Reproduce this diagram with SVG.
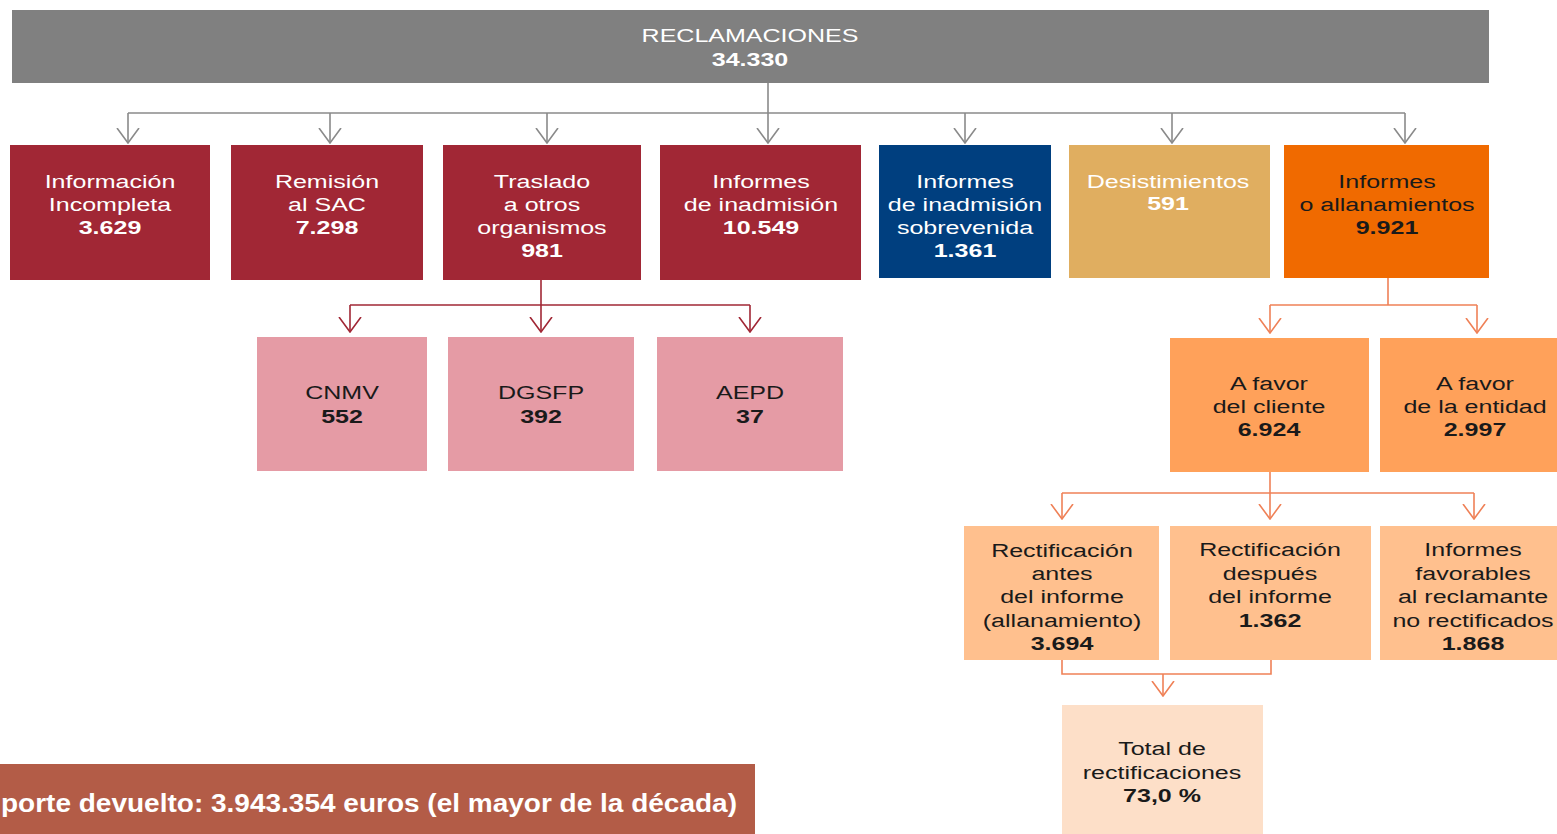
<svg xmlns="http://www.w3.org/2000/svg" width="1557" height="834" viewBox="0 0 1557 834">
<style>
.t{font-family:"Liberation Sans",Arial,sans-serif;font-size:18px;text-anchor:middle}
.w{fill:#ffffff}
.k{fill:#1a1a1a}
.b{font-weight:bold}
.cg{stroke:#8a8a8a;stroke-width:1.6;fill:none}
.cr{stroke:#a12735;stroke-width:1.6;fill:none}
.co{stroke:#ef8157;stroke-width:1.6;fill:none}
</style>
<defs>
<marker id="ag" markerUnits="userSpaceOnUse" viewBox="0 -12 16 24" refX="15" refY="0" markerWidth="16" markerHeight="24" orient="auto"><path d="M0,-11 L15,0 L0,11" fill="none" stroke="#8a8a8a" stroke-width="1.6"/></marker>
<marker id="ar" markerUnits="userSpaceOnUse" viewBox="0 -12 16 24" refX="15" refY="0" markerWidth="16" markerHeight="24" orient="auto"><path d="M0,-11 L15,0 L0,11" fill="none" stroke="#a12735" stroke-width="1.6"/></marker>
<marker id="ao" markerUnits="userSpaceOnUse" viewBox="0 -12 16 24" refX="15" refY="0" markerWidth="16" markerHeight="24" orient="auto"><path d="M0,-11 L15,0 L0,11" fill="none" stroke="#ef8157" stroke-width="1.6"/></marker>
</defs>
<rect width="1557" height="834" fill="#ffffff"/>
<g id="connectors">
<path class="cg" d="M128,113 H1405"/>
<path class="cg" d="M768,83 V143" marker-end="url(#ag)"/>
<path class="cg" d="M128,113 V143" marker-end="url(#ag)"/>
<path class="cg" d="M330,113 V143" marker-end="url(#ag)"/>
<path class="cg" d="M547,113 V143" marker-end="url(#ag)"/>
<path class="cg" d="M965,113 V143" marker-end="url(#ag)"/>
<path class="cg" d="M1172,113 V143" marker-end="url(#ag)"/>
<path class="cg" d="M1405,113 V143" marker-end="url(#ag)"/>
<path class="cr" d="M350,305 H750"/>
<path class="cr" d="M541,280 V332" marker-end="url(#ar)"/>
<path class="cr" d="M350,305 V332" marker-end="url(#ar)"/>
<path class="cr" d="M750,305 V332" marker-end="url(#ar)"/>
<path class="co" d="M1388,278 V305 M1270,305 H1477"/>
<path class="co" d="M1270,305 V333" marker-end="url(#ao)"/>
<path class="co" d="M1477,305 V333" marker-end="url(#ao)"/>
<path class="co" d="M1062,493 H1474"/>
<path class="co" d="M1270,468 V519" marker-end="url(#ao)"/>
<path class="co" d="M1062,493 V519" marker-end="url(#ao)"/>
<path class="co" d="M1474,493 V519" marker-end="url(#ao)"/>
<path class="co" d="M1062,654 V674 H1271 V652"/>
<path class="co" d="M1163,674 V696" marker-end="url(#ao)"/>
</g>
<g id="n-reclamaciones">
<rect x="12" y="10" width="1477" height="73" fill="#808080"/>
<text class="t w" transform="translate(750,0) scale(1.39,1)"><tspan x="0" y="42">RECLAMACIONES</tspan><tspan class="b" x="0" y="66">34.330</tspan></text>
</g>
<g id="n-info">
<rect x="10" y="145" width="200" height="135" fill="#a12735"/>
<text class="t w" transform="translate(110,0) scale(1.39,1)"><tspan x="0" y="188">Información</tspan><tspan x="0" y="211">Incompleta</tspan><tspan class="b" x="0" y="234">3.629</tspan></text>
</g>
<g id="n-remision">
<rect x="231" y="145" width="192" height="135" fill="#a12735"/>
<text class="t w" transform="translate(327,0) scale(1.39,1)"><tspan x="0" y="188">Remisión</tspan><tspan x="0" y="211">al SAC</tspan><tspan class="b" x="0" y="234">7.298</tspan></text>
</g>
<g id="n-traslado">
<rect x="443" y="145" width="198" height="135" fill="#a12735"/>
<text class="t w" transform="translate(542,0) scale(1.39,1)"><tspan x="0" y="188">Traslado</tspan><tspan x="0" y="211">a otros</tspan><tspan x="0" y="234">organismos</tspan><tspan class="b" x="0" y="257">981</tspan></text>
</g>
<g id="n-inadmision">
<rect x="660" y="145" width="201" height="135" fill="#a12735"/>
<text class="t w" transform="translate(761,0) scale(1.39,1)"><tspan x="0" y="188">Informes</tspan><tspan x="0" y="211">de inadmisión</tspan><tspan class="b" x="0" y="234">10.549</tspan></text>
</g>
<g id="n-sobrevenida">
<rect x="879" y="145" width="172" height="133" fill="#003f7f"/>
<text class="t w" transform="translate(965,0) scale(1.39,1)"><tspan x="0" y="188">Informes</tspan><tspan x="0" y="211">de inadmisión</tspan><tspan x="0" y="234">sobrevenida</tspan><tspan class="b" x="0" y="257">1.361</tspan></text>
</g>
<g id="n-desistimientos">
<rect x="1069" y="145" width="201" height="133" fill="#e0ae60"/>
<text class="t w" transform="translate(1168,0) scale(1.39,1)"><tspan x="0" y="188">Desistimientos</tspan><tspan class="b" x="0" y="210">591</tspan></text>
</g>
<g id="n-allanamientos">
<rect x="1284" y="145" width="205" height="133" fill="#f06a00"/>
<text class="t k" transform="translate(1387,0) scale(1.39,1)"><tspan x="0" y="188">Informes</tspan><tspan x="0" y="211">o allanamientos</tspan><tspan class="b" x="0" y="234">9.921</tspan></text>
</g>
<g id="n-cnmv">
<rect x="257" y="337" width="170" height="134" fill="#e59ba5"/>
<text class="t k" transform="translate(342,0) scale(1.39,1)"><tspan x="0" y="399">CNMV</tspan><tspan class="b" x="0" y="423">552</tspan></text>
</g>
<g id="n-dgsfp">
<rect x="448" y="337" width="186" height="134" fill="#e59ba5"/>
<text class="t k" transform="translate(541,0) scale(1.39,1)"><tspan x="0" y="399">DGSFP</tspan><tspan class="b" x="0" y="423">392</tspan></text>
</g>
<g id="n-aepd">
<rect x="657" y="337" width="186" height="134" fill="#e59ba5"/>
<text class="t k" transform="translate(750,0) scale(1.39,1)"><tspan x="0" y="399">AEPD</tspan><tspan class="b" x="0" y="423">37</tspan></text>
</g>
<g id="n-cliente">
<rect x="1170" y="338" width="199" height="134" fill="#ffa15a"/>
<text class="t k" transform="translate(1269,0) scale(1.39,1)"><tspan x="0" y="390">A favor</tspan><tspan x="0" y="413">del cliente</tspan><tspan class="b" x="0" y="436">6.924</tspan></text>
</g>
<g id="n-entidad">
<rect x="1380" y="338" width="177" height="134" fill="#ffa15a"/>
<text class="t k" transform="translate(1475,0) scale(1.39,1)"><tspan x="0" y="390">A favor</tspan><tspan x="0" y="413">de la entidad</tspan><tspan class="b" x="0" y="436">2.997</tspan></text>
</g>
<g id="n-rect-antes">
<rect x="964" y="526" width="195" height="134" fill="#ffc08e"/>
<text class="t k" transform="translate(1062,0) scale(1.39,1)"><tspan x="0" y="557">Rectificación</tspan><tspan x="0" y="580">antes</tspan><tspan x="0" y="603">del informe</tspan><tspan x="0" y="627">(allanamiento)</tspan><tspan class="b" x="0" y="650">3.694</tspan></text>
</g>
<g id="n-rect-despues">
<rect x="1170" y="526" width="201" height="134" fill="#ffc08e"/>
<text class="t k" transform="translate(1270,0) scale(1.39,1)"><tspan x="0" y="556">Rectificación</tspan><tspan x="0" y="580">después</tspan><tspan x="0" y="603">del informe</tspan><tspan class="b" x="0" y="627">1.362</tspan></text>
</g>
<g id="n-favorables">
<rect x="1380" y="526" width="177" height="134" fill="#ffc08e"/>
<text class="t k" transform="translate(1473,0) scale(1.39,1)"><tspan x="0" y="556">Informes</tspan><tspan x="0" y="580">favorables</tspan><tspan x="0" y="603">al reclamante</tspan><tspan x="0" y="627">no rectificados</tspan><tspan class="b" x="0" y="650">1.868</tspan></text>
</g>
<g id="n-total">
<rect x="1062" y="705" width="201" height="129" fill="#fddfc8"/>
<text class="t k" transform="translate(1162,0) scale(1.39,1)"><tspan x="0" y="755">Total de</tspan><tspan x="0" y="779">rectificaciones</tspan><tspan class="b" x="0" y="802">73,0 %</tspan></text>
</g>
<g id="n-importe">
<rect x="0" y="764" width="755" height="70" fill="#b35c47"/>
<text x="1" y="812" font-family="'Liberation Sans',Arial,sans-serif" font-size="26" font-weight="bold" fill="#ffffff" textLength="736" lengthAdjust="spacingAndGlyphs">porte devuelto: 3.943.354 euros (el mayor de la década)</text>
</g>
</svg>
